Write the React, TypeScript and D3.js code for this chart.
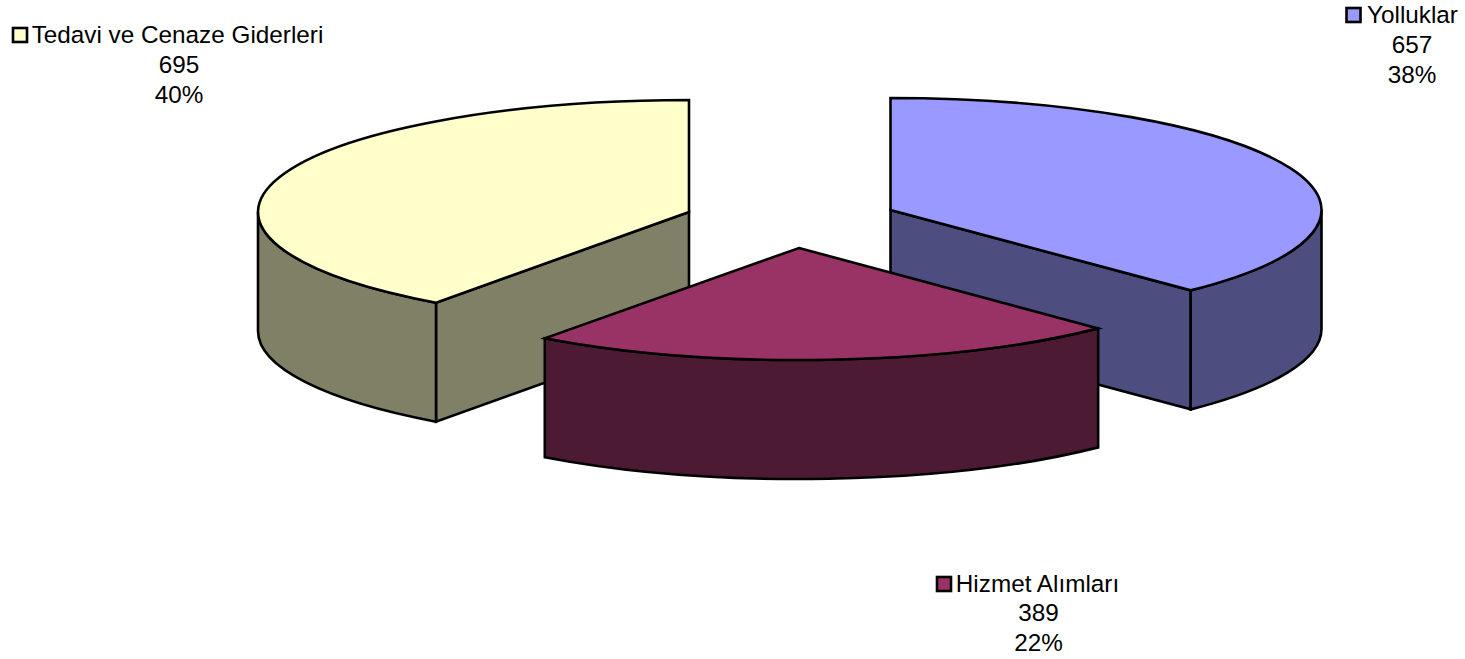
import React from "react";
import * as d3 from "d3";

const categories = ["Yolluklar", "Hizmet Alımları", "Tedavi ve Cenaze Giderleri"];
const values = [657, 389, 695];
const percents = ["38%", "22%", "40%"];
const topColors = ["#9999FF", "#993366", "#FFFFCC"];
const sideColors = ["#4D4D80", "#4D1A33", "#808066"];
const apexX = [890.5, 799, 689];
const apexY = [210, 248, 212];
const radiiX = [431, 429.5, 431];
const startTrim = [0, 0, -0.006];
const legendX = [1412.5, 1037.5, 177.5];
const legendY = [23, 592, 43];
const valueX = [1412, 1038.5, 179];
const valueY = [53, 620.5, 73];
const swatchX = [1346.5, 937, 13];

const W = 1465, H = 659, RY = 112, DEPTH = 119;
const FONT = "'Liberation Sans', Arial, sans-serif";
const STROKE = { stroke: "#000", strokeWidth: 2.6, strokeLinejoin: "miter" as const };

const arcs = d3.pie<number>().sort(null).value((d) => d)(values);
const round = d3.format(".2f");

function pt(i: number, a: number, dz = 0): [number, number] {
  return [apexX[i] + radiiX[i] * Math.sin(a), apexY[i] - RY * Math.cos(a) + dz];
}
function p(c: [number, number]) {
  return `${round(c[0])},${round(c[1])}`;
}
function ell(i: number, from: number, to: number, dz = 0) {
  const large = Math.abs(to - from) > Math.PI ? 1 : 0;
  const sweep = to > from ? 1 : 0;
  return `A${radiiX[i]},${RY} 0 ${large} ${sweep} ${p(pt(i, to, dz))}`;
}
function startOf(i: number) {
  return arcs[i].startAngle + startTrim[i];
}
function topPath(i: number) {
  const s = startOf(i), e = arcs[i].endAngle;
  return `M${apexX[i]},${apexY[i]}L${p(pt(i, s))}${ell(i, s, e)}Z`;
}
function outerWall(i: number, s: number, e: number) {
  return `M${p(pt(i, s))}${ell(i, s, e)}L${p(pt(i, e, DEPTH))}${ell(i, e, s, DEPTH)}Z`;
}
function cutWall(i: number, a: number) {
  const q = pt(i, a);
  return `M${apexX[i]},${apexY[i]}L${p(q)}L${p(pt(i, a, DEPTH))}L${apexX[i]},${apexY[i] + DEPTH}Z`;
}

const Slice = ({ i }: { i: number }) => {
  const s = startOf(i), e = arcs[i].endAngle;
  const side = sideColors[i];
  return (
    <g>
      {i === 0 && <path d={cutWall(i, e)} fill={side} {...STROKE} />}
      {i === 2 && <path d={cutWall(i, s)} fill={side} {...STROKE} />}
      {i === 0 && <path d={outerWall(i, Math.PI / 2, e)} fill={side} {...STROKE} />}
      {i === 1 && <path d={outerWall(i, s, e)} fill={side} {...STROKE} />}
      {i === 2 && <path d={outerWall(i, s, (3 * Math.PI) / 2)} fill={side} {...STROKE} />}
      <path d={topPath(i)} fill={topColors[i]} {...STROKE} />
    </g>
  );
};

const Legend = ({ i }: { i: number }) => (
  <g fontFamily={FONT} fontSize={24.3} fill="#000">
    <rect x={swatchX[i]} y={legendY[i] - 15} width={14} height={14} fill={topColors[i]} stroke="#000" strokeWidth={2.6} />
    <text x={legendX[i]} y={legendY[i]} textAnchor="middle">{categories[i]}</text>
    <text x={valueX[i]} y={valueY[i]} textAnchor="middle">{values[i]}</text>
    <text x={valueX[i]} y={valueY[i] + 30} textAnchor="middle">{percents[i]}</text>
  </g>
);

export default function App() {
  return (
    <svg width={W} height={H} viewBox={`0 0 ${W} ${H}`} style={{ position: "absolute", left: 0, top: 0, background: "#fff" }}>
      <Slice i={2} />
      <Slice i={0} />
      <Slice i={1} />
      {categories.map((_, i) => <Legend key={i} i={i} />)}
    </svg>
  );
}
